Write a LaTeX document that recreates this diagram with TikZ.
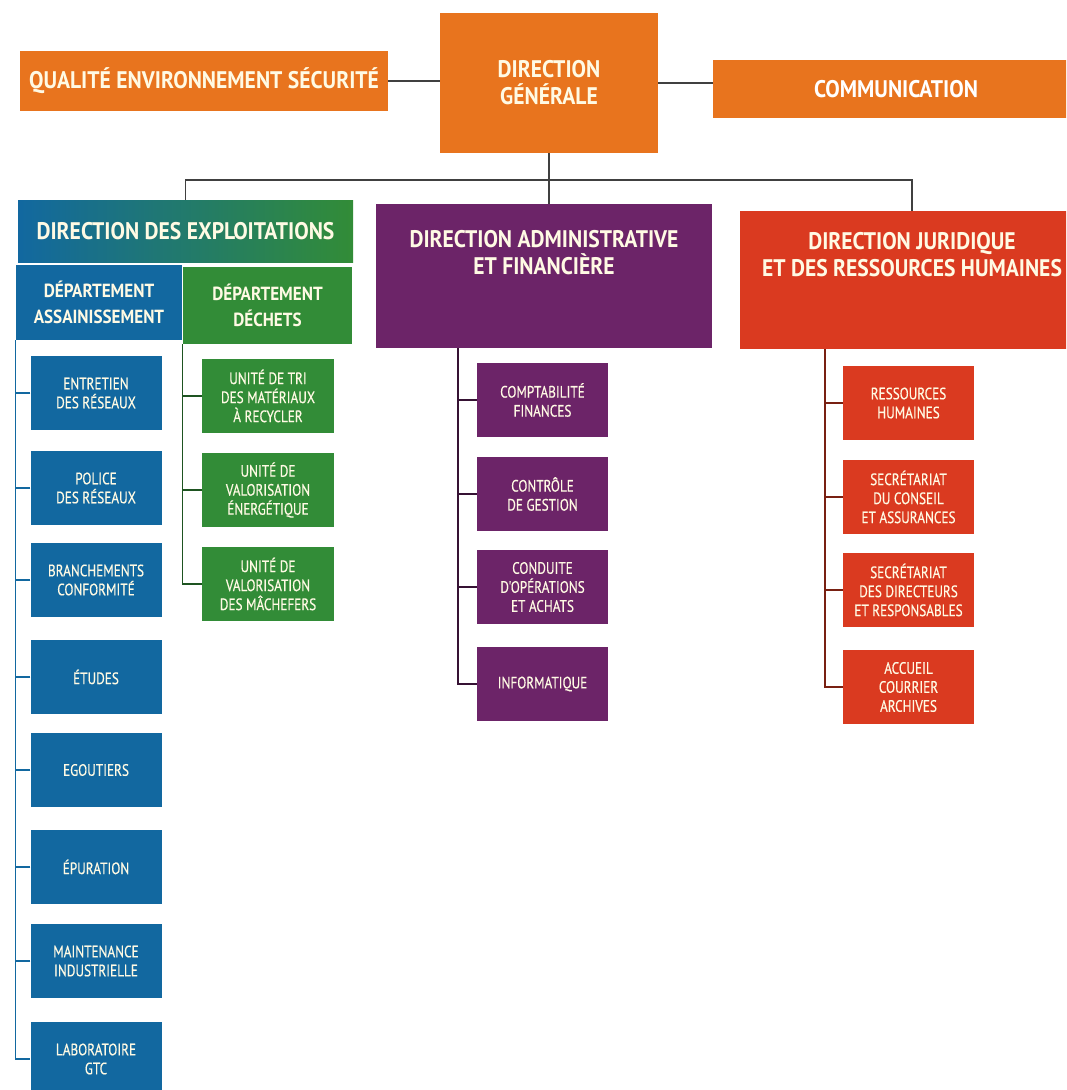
\documentclass[tikz,border=0pt]{standalone}
\usepackage{fontspec}
\setmainfont{PT Sans}
\newfontfamily\hdfont[FakeStretch=0.9]{PT Sans}
\newfontfamily\unitfont[FakeStretch=0.8,FakeBold=0.4]{PT Sans}
\usepackage{tikz}
\usetikzlibrary{calc}

\definecolor{orangeC}{RGB}{232,116,30}
\definecolor{blueC}{RGB}{18,104,160}
\definecolor{greenC}{RGB}{50,140,55}
\definecolor{purpleC}{RGB}{108,36,104}
\definecolor{redC}{RGB}{218,58,32}
\definecolor{txt}{RGB}{255,250,228}

\begin{document}
\begin{tikzpicture}
			[x=1pt,y=-1pt,
			n/.style= {inner sep=0pt,align=center,text=txt},
			hd/.style= {n,font=\hdfont\bfseries\fontsize{24}{27}\selectfont},
			dp/.style= {n,font=\hdfont\bfseries\fontsize{19}{26}\selectfont},
			u/.style= {n,font=\unitfont\fontsize{16.5}{19}\selectfont,minimum width=131,minimum height=74},
			ln/.style= {line width=1.2pt,draw=black!75}]

			\clip (0,0) rectangle (1066,1090);
			\fill[white] (0,0) rectangle (1066,1090);

			% top row
			\node[hd,fill=orangeC,minimum width=368,minimum height=60] (qes) at (204,81) {QUALITÉ ENVIRONNEMENT SÉCURITÉ};
			\node[hd,fill=orangeC,minimum width=218,minimum height=140] (dg) at (549,83) {DIRECTION\\GÉNÉRALE};
			\node[hd,fill=orangeC,text=white,minimum width=366,minimum height=58] (com) at (896,89) {COMMUNICATION};

			\draw[ln] (qes.east) -- (qes.east -| dg.west);
			\draw[ln] (dg.east) -- (dg.east -| com.west);

			% directions
			\node[hd,left color=blueC,right color=greenC,minimum width=335,minimum height=62] (dde) at (185.5,231) {DIRECTION DES EXPLOITATIONS};
			\node[hd,fill=purpleC,minimum width=336,minimum height=144] (daf) at (544,276)
				{\parbox[c][92pt][t]{330pt}{\centering DIRECTION ADMINISTRATIVE\\ET FINANCIÈRE}};
			\node[hd,fill=redC,minimum width=344,minimum height=138] (djr) at (912,280)
				{\parbox[c][95pt][t]{340pt}{\centering DIRECTION JURIDIQUE\\ET DES RESSOURCES HUMAINES}};

			\coordinate (bus) at (549,180);
			\draw[ln] (dg.south) -- (dg.south |- daf.north);
			\draw[ln] (dde.north) |- (bus) -| (djr.north);

			% departements
			\node[dp,fill=blueC,minimum width=166,minimum height=75] (da) at (99,302.5) {DÉPARTEMENT\\ASSAINISSEMENT};
			\node[dp,fill=greenC,minimum width=169,minimum height=77] (dd) at (267.5,305.5) {DÉPARTEMENT\\DÉCHETS};

			% assainissement
			\node[u,fill=blueC] (a1) at (96,393) {ENTRETIEN\\DES RÉSEAUX};
			\node[u,fill=blueC] (a2) at (96,488) {POLICE\\DES RÉSEAUX};
			\node[u,fill=blueC] (a3) at (96,580) {BRANCHEMENTS\\CONFORMITÉ};
			\node[u,fill=blueC] (a4) at (96,677) {ÉTUDES};
			\node[u,fill=blueC] (a5) at (96,770) {EGOUTIERS};
			\node[u,fill=blueC] (a6) at (96,867) {ÉPURATION};
			\node[u,fill=blueC] (a7) at (96,961) {MAINTENANCE\\INDUSTRIELLE};
			\node[u,fill=blueC] (a8) at (96,1059) {LABORATOIRE\\GTC};

			\draw[ln,draw=blueC] (da.south west) |- (a8.west);
			\draw[ln,draw=blueC] (a1.west) -- (a1.west -| da.west) (a2.west) -- (a2.west -| da.west)
				(a3.west) -- (a3.west -| da.west) (a4.west) -- (a4.west -| da.west)
				(a5.west) -- (a5.west -| da.west) (a6.west) -- (a6.west -| da.west)
				(a7.west) -- (a7.west -| da.west);

			% dechets
			\node[u,fill=greenC,minimum width=132] (d1) at (268,396) {UNITÉ DE TRI\\DES MATÉRIAUX\\À RECYCLER};
			\node[u,fill=greenC,minimum width=132] (d2) at (268,490) {UNITÉ DE\\VALORISATION\\ÉNERGÉTIQUE};
			\node[u,fill=greenC,minimum width=132] (d3) at (268,584) {UNITÉ DE\\VALORISATION\\DES MÂCHEFERS};

			\draw[ln,draw=greenC!60!black] (dd.south west) |- (d3.west);
			\draw[ln,draw=greenC!60!black] (d1.west) -- (d1.west -| dd.west) (d2.west) -- (d2.west -| dd.west);

			% administrative et financiere
			\node[u,fill=purpleC] (f1) at (542.5,400) {COMPTABILITÉ\\FINANCES};
			\node[u,fill=purpleC] (f2) at (542.5,494) {CONTRÔLE\\DE GESTION};
			\node[u,fill=purpleC] (f3) at (542.5,587) {CONDUITE\\D'OPÉRATIONS\\ET ACHATS};
			\node[u,fill=purpleC] (f4) at (542.5,684) {INFORMATIQUE};

			\coordinate (fsp) at (458,348);
			\draw[ln,draw=purpleC!50!black] (fsp) |- (f4.west);
			\draw[ln,draw=purpleC!50!black] (f1.west) -- (f1.west -| fsp) (f2.west) -- (f2.west -| fsp)
				(f3.west) -- (f3.west -| fsp);

			% juridique et ressources humaines
			\node[u,fill=redC] (r1) at (908.5,403) {RESSOURCES\\HUMAINES};
			\node[u,fill=redC] (r2) at (908.5,497) {SECRÉTARIAT\\DU CONSEIL\\ET ASSURANCES};
			\node[u,fill=redC] (r3) at (908.5,590) {SECRÉTARIAT\\DES DIRECTEURS\\ET RESPONSABLES};
			\node[u,fill=redC] (r4) at (908.5,687) {ACCUEIL\\COURRIER\\ARCHIVES};

			\coordinate (rsp) at (825,349);
			\draw[ln,draw=redC!55!black] (rsp) |- (r4.west);
			\draw[ln,draw=redC!55!black] (r1.west) -- (r1.west -| rsp) (r2.west) -- (r2.west -| rsp)
				(r3.west) -- (r3.west -| rsp);

		\end{tikzpicture}
\end{document}
